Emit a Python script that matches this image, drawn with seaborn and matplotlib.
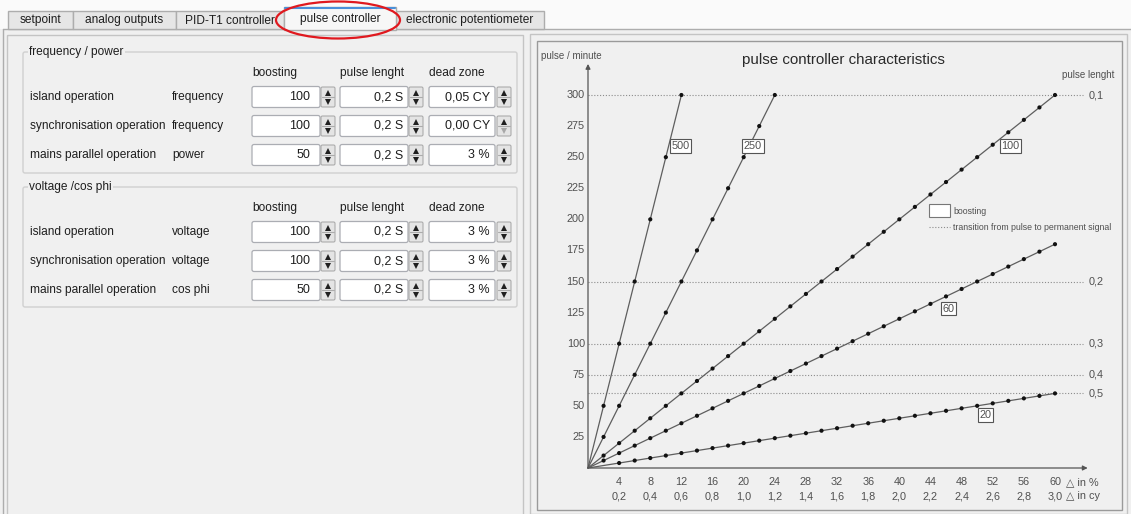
import matplotlib
matplotlib.use("Agg")
import matplotlib.pyplot as plt
from matplotlib.patches import FancyBboxPatch, Rectangle, Ellipse
import pandas as pd
import seaborn as sns

sns.set_style("white")
plt.rcParams["font.family"] = ["Liberation Sans", "DejaVu Sans"]

# ---------------- dados do formulario ----------------
tabs = ["setpoint", "analog outputs", "PID-T1 controller", "pulse controller", "electronic potentiometer"]
tab_edges = [8, 73, 176, 284, 396, 544]
selected_tab = 3

col_headers = ["boosting", "pulse lenght", "dead zone"]

group_titles = ["frequency / power", "voltage /cos phi"]
row_names = ["island operation", "synchronisation operation", "mains parallel operation"]
freq_qty = ["frequency", "frequency", "power"]
freq_boost = ["100", "100", "50"]
freq_pulse = ["0,2 S", "0,2 S", "0,2 S"]
freq_dead = ["0,05 CY", "0,00 CY", "3 %"]
volt_qty = ["voltage", "voltage", "cos phi"]
volt_boost = ["100", "100", "50"]
volt_pulse = ["0,2 S", "0,2 S", "0,2 S"]
volt_dead = ["3 %", "3 %", "3 %"]

# ---------------- dados do grafico ----------------
b500_x = [0, 2, 4, 6, 8, 10, 12]
b500_y = [0, 50, 100, 150, 200, 250, 300]
b250_x = [0, 2, 4, 6, 8, 10, 12, 14, 16, 18, 20, 22, 24]
b250_y = [0, 25, 50, 75, 100, 125, 150, 175, 200, 225, 250, 275, 300]
b100_x = [0, 2, 4, 6, 8, 10, 12, 14, 16, 18, 20, 22, 24, 26, 28, 30,
          32, 34, 36, 38, 40, 42, 44, 46, 48, 50, 52, 54, 56, 58, 60]
b100_y = [0, 10, 20, 30, 40, 50, 60, 70, 80, 90, 100, 110, 120, 130, 140, 150,
          160, 170, 180, 190, 200, 210, 220, 230, 240, 250, 260, 270, 280, 290, 300]
b60_x = [0, 2, 4, 6, 8, 10, 12, 14, 16, 18, 20, 22, 24, 26, 28, 30,
         32, 34, 36, 38, 40, 42, 44, 46, 48, 50, 52, 54, 56, 58, 60]
b60_y = [0, 6, 12, 18, 24, 30, 36, 42, 48, 54, 60, 66, 72, 78, 84, 90,
         96, 102, 108, 114, 120, 126, 132, 138, 144, 150, 156, 162, 168, 174, 180]
b20_x = [0, 4, 6, 8, 10, 12, 14, 16, 18, 20, 22, 24, 26, 28, 30,
         32, 34, 36, 38, 40, 42, 44, 46, 48, 50, 52, 54, 56, 58, 60]
b20_y = [0, 4, 6, 8, 10, 12, 14, 16, 18, 20, 22, 24, 26, 28, 30,
         32, 34, 36, 38, 40, 42, 44, 46, 48, 50, 52, 54, 56, 58, 60]

boost_labels = ["500", "250", "100", "60", "20"]
label_x = [11.9, 21.2, 54.3, 46.3, 51.1]
label_y = [259, 259, 259, 128, 42.6]

limit_ppm = [300, 150, 100, 75, 60]
limit_len = ["0,1", "0,2", "0,3", "0,4", "0,5"]

y_ticks = [25, 50, 75, 100, 125, 150, 175, 200, 225, 250, 275, 300]
x_ticks = [4, 8, 12, 16, 20, 24, 28, 32, 36, 40, 44, 48, 52, 56, 60]
x_ticks_cy = ["0,2", "0,4", "0,6", "0,8", "1,0", "1,2", "1,4", "1,6", "1,8", "2,0",
              "2,2", "2,4", "2,6", "2,8", "3,0"]

df = pd.concat([
    pd.DataFrame({"delta": b500_x, "ppm": b500_y, "boosting": "500"}),
    pd.DataFrame({"delta": b250_x, "ppm": b250_y, "boosting": "250"}),
    pd.DataFrame({"delta": b100_x, "ppm": b100_y, "boosting": "100"}),
    pd.DataFrame({"delta": b60_x, "ppm": b60_y, "boosting": "60"}),
    pd.DataFrame({"delta": b20_x, "ppm": b20_y, "boosting": "20"}),
], ignore_index=True)

# ---------------- figura ----------------
W, H = 1131, 514
BG = "#f0f0f0"
TXT = "#1e1e1e"
FS = 8.6
fig = plt.figure(figsize=(W / 100, H / 100), dpi=100, facecolor=BG)

ui = fig.add_axes([0, 0, 1, 1])
ui.set_xlim(0, W)
ui.set_ylim(H, 0)
ui.axis("off")

# faixa superior + abas
ui.add_patch(Rectangle((0, 0), W, 29, facecolor="#fafafa", edgecolor="none"))
ui.plot([3, W], [29, 29], color="#adadad", lw=1)
ui.plot([3, 3], [29, H], color="#adadad", lw=1)
for i, nome in enumerate(tabs):
    x0, x1 = tab_edges[i], tab_edges[i + 1]
    if i == selected_tab:
        ui.add_patch(Rectangle((x0, 7), x1 - x0, 23, facecolor="#f7f7f7", edgecolor="#adadad", lw=1, zorder=3))
        ui.plot([x0 + 1, x1 - 1], [7.5, 7.5], color="#4a90d9", lw=1.5, zorder=4)
        ui.text((x0 + x1) / 2, 19, nome, ha="center", va="center", fontsize=FS, color=TXT, zorder=5)
    else:
        ui.add_patch(Rectangle((x0, 11), x1 - x0, 18, facecolor="#e6e6e6", edgecolor="#adadad", lw=1, zorder=2))
        ui.text((x0 + x1) / 2, 20.5, nome, ha="center", va="center", fontsize=FS, color=TXT, zorder=5)
ui.add_patch(Ellipse((338, 20), 124, 37, facecolor="none", edgecolor="#e0191f", lw=1.6, zorder=6))

# paineis
ui.add_patch(Rectangle((7, 35), 516, 490, facecolor="none", edgecolor="#c4c4c4", lw=1))
ui.add_patch(Rectangle((530, 34), 597, 480, facecolor="none", edgecolor="#c4c4c4", lw=1))
ui.add_patch(Rectangle((537, 41), 585, 469, facecolor="none", edgecolor="#9a9a9a", lw=1))

field_x = [252, 340, 429]
field_w = [68, 68, 66]
text_off = [10, 5, 5]
btn_x = [321, 409, 497]


def spin_box(col, yc, valor, down_disabled=False):
    ui.add_patch(FancyBboxPatch((field_x[col], yc - 10.5), field_w[col], 21,
                                boxstyle="round,pad=0,rounding_size=2",
                                facecolor="white", edgecolor="#abadb3", lw=0.9))
    ui.text(field_x[col] + field_w[col] - text_off[col], yc, valor, ha="right", va="center",
            fontsize=FS + 0.4, color=TXT)
    ui.add_patch(FancyBboxPatch((btn_x[col], yc - 10), 14, 20,
                                boxstyle="round,pad=0,rounding_size=1.5",
                                facecolor="#e4e4e4", edgecolor="#acacac", lw=0.8))
    ui.plot([btn_x[col] + 1, btn_x[col] + 13], [yc, yc], color="#acacac", lw=0.8)
    ui.plot(btn_x[col] + 7, yc - 4.5, marker="^", ms=4, color="#202020", mew=0)
    ui.plot(btn_x[col] + 7, yc + 4.5, marker="v", ms=4,
            color="#a8a8a8" if down_disabled else "#202020", mew=0)


def grupo(y_top, y_bot, titulo, y_head, y_rows, qty, boost, pulse, dead):
    ui.add_patch(FancyBboxPatch((23, y_top), 494, y_bot - y_top,
                                boxstyle="round,pad=0,rounding_size=2",
                                facecolor="none", edgecolor="#d0d0d0", lw=1))
    ui.text(29, y_top, titulo, ha="left", va="center", fontsize=FS, color=TXT,
            bbox=dict(facecolor=BG, edgecolor="none", pad=1))
    for c, h in enumerate(col_headers):
        ui.text(field_x[c], y_head, h, ha="left", va="center", fontsize=FS, color=TXT)
    for r, yr in enumerate(y_rows):
        ui.text(30, yr, row_names[r], ha="left", va="center", fontsize=FS, color=TXT)
        ui.text(172, yr, qty[r], ha="left", va="center", fontsize=FS, color=TXT)
        spin_box(0, yr, boost[r])
        spin_box(1, yr, pulse[r])
        spin_box(2, yr, dead[r], down_disabled=(dead[r] == "0,00 CY"))


grupo(52, 173, group_titles[0], 73, [97, 126, 155], freq_qty, freq_boost, freq_pulse, freq_dead)
grupo(187, 307, group_titles[1], 208, [232, 261, 290], volt_qty, volt_boost, volt_pulse, volt_dead)

# ---------------- grafico ----------------
OX, OY = 588, 468
PX_X = (1055 - 588) / 60
PX_Y = (468 - 95) / 300
bx0, bx1, by0, by1 = 538, 1121, 43, 509
ax = fig.add_axes([bx0 / W, 1 - by1 / H, (bx1 - bx0) / W, (by1 - by0) / H])
ax.set_facecolor("none")
ax.set_xlim((bx0 - OX) / PX_X, (bx1 - OX) / PX_X)
ax.set_ylim((OY - by1) / PX_Y, (OY - by0) / PX_Y)
ax.axis("off")

GRAY = "#505050"
# linhas pontilhadas de transicao
for v, lab in zip(limit_ppm, limit_len):
    ax.plot([0, 63.6], [v, v], color="#8c8c8c", lw=0.8, ls=(0, (1, 1.6)), zorder=1)
    ax.text(64.3, v, lab, ha="left", va="center", fontsize=7.8, color=GRAY)
ax.text(64.3, 316, "pulse lenght", ha="center", va="center", fontsize=7, color=GRAY)

# eixos com setas
ax.annotate("", xy=(64.2, 0), xytext=(0, 0),
            arrowprops=dict(arrowstyle="-|>", color="#555555", lw=0.9, mutation_scale=7, shrinkA=0, shrinkB=0))
ax.annotate("", xy=(0, 325), xytext=(0, 0),
            arrowprops=dict(arrowstyle="-|>", color="#555555", lw=0.9, mutation_scale=7, shrinkA=0, shrinkB=0))

sns.lineplot(data=df, x="delta", y="ppm", units="boosting", estimator=None, sort=False,
             color="#5e5e5e", lw=0.9, ax=ax, legend=False, zorder=2)
sns.scatterplot(data=df[df["delta"] > 0], x="delta", y="ppm", color="#111111", s=9,
                edgecolor="none", ax=ax, legend=False, zorder=3)
ax.set_xlabel("")
ax.set_ylabel("")

for lab, lx, ly in zip(boost_labels, label_x, label_y):
    ax.text(lx, ly, lab, ha="center", va="center", fontsize=7.8, color=GRAY, zorder=4,
            bbox=dict(facecolor="white", edgecolor="#555555", lw=0.8, pad=1.2))

for t in y_ticks:
    ax.text(-0.4, t, str(t), ha="right", va="center", fontsize=7.8, color=GRAY)
for t, cy in zip(x_ticks, x_ticks_cy):
    ax.text(t, -11.3, str(t), ha="center", va="center", fontsize=7.8, color=GRAY)
    ax.text(t, -22.8, cy, ha="center", va="center", fontsize=7.8, color=GRAY)
ax.text(61.4, -11.3, "△ in %", ha="left", va="center", fontsize=7.8, color=GRAY)
ax.text(61.4, -22.8, "△ in cy", ha="left", va="center", fontsize=7.8, color=GRAY)

# titulo, rotulo do eixo y e legenda (coordenadas de tela)
ui.text(843, 60, "pulse controller characteristics", ha="center", va="center", fontsize=10.9, color="#2a2a2a")
ui.text(541, 56, "pulse / minute", ha="left", va="center", fontsize=7, color=GRAY)
ui.add_patch(Rectangle((929, 204), 21, 13, facecolor="white", edgecolor="#777777", lw=0.8))
ui.text(953, 211, "boosting", ha="left", va="center", fontsize=6.3, color=GRAY)
ui.plot([929, 950], [227, 227], color="#8c8c8c", lw=0.8, ls=(0, (1, 1.6)))
ui.text(953, 227, "transition from pulse to permanent signal", ha="left", va="center", fontsize=6.3, color=GRAY)

fig.savefig("out.png", dpi=100, facecolor=BG)
